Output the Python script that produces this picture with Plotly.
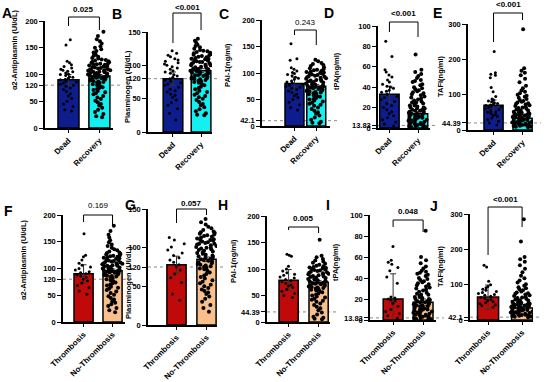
import plotly.graph_objects as go

W, H = 550, 382

# ---------------- data ----------------
cat_top = ["Dead", "Recovery"]
cat_bot = ["Thrombosis", "No-Thrombosis"]

y_titles = ["α2-Antiplasmin (UI/dL)", "Plasminogen (UI/dL)", "PAI-1(ng/ml)", "tPA(ng/ml)", "TAFI(ng/ml)",
            "α2-Antiplasmin (UI/dL)", "Plasminogen (UI/dL)", "PAI-1(ng/ml)", "tPA(ng/ml)", "TAFI(ng/ml)"]
letters = ["A", "B", "C", "D", "E", "F", "G", "H", "I", "J"]
p_values = ["0.025", "<0.001", "0.243", "<0.001", "<0.001", "0.169", "0.057", "0.005", "0.048", "<0.001"]
p_bold = [True, True, False, True, True, False, True, True, True, True]

bar_means = [[90, 97], [80, 92], [80, 75], [33, 14], [70, 33],
             [90, 96], [78, 85], [79, 75], [20, 17], [65, 34]]
bar_err = [[10, 3], [10, 3], [12, 3], [8, 2], [15, 4],
           [17, 3], [11, 3], [20, 3], [24, 3], [34, 3]]
ref_value = [80, 80, 10, 2.5, 20, 80, 75, 19, 2, 8]
ref_label = ["120", "120", "42.1", "13.83", "44.39", "120", "120", "44.39", "13.83", "42.1"]
y_max = [200, 150, 200, 100, 300, 200, 150, 200, 100, 300]
y_ticks = [[0, 50, 100, 150, 200], [0, 50, 100, 150], [0, 50, 100, 150, 200], [0, 20, 40, 60, 80, 100], [0, 100, 200, 300],
           [0, 50, 100, 150, 200], [0, 50, 100, 150], [0, 50, 100, 150, 200], [0, 20, 40, 60, 80, 100], [0, 100, 200, 300]]

antiplasmin_dead = [165, 155, 125, 122, 118, 115, 112, 110, 108, 106, 105, 103, 101, 100, 98, 96, 95, 93, 91, 90,
                    88, 86, 84, 82, 80, 78, 75, 72, 68, 64, 60, 55, 50, 45, 40, 34, 32]
antiplasmin_recovery = [180, 172, 166, 162, 158, 153, 150, 147, 144, 141, 139, 137, 135, 133, 131, 130, 128, 127, 126,
                        125, 124, 123, 122, 121, 120, 119, 118, 118, 117, 116, 115, 114, 114, 113, 112, 111, 110, 110,
                        109, 108, 108, 107, 106, 105, 105, 104, 103, 103, 102, 101, 100, 100, 99, 98, 98, 97, 96, 95,
                        95, 94, 93, 92, 91, 90, 89, 88, 87, 86, 85, 84, 82, 80, 78, 76, 75, 73, 71, 69, 67, 65, 63, 60,
                        57, 54, 51, 48, 45, 42, 38, 34, 30, 26, 22, 20]
plasminogen_dead = [122, 118, 115, 113, 110, 108, 106, 104, 102, 100, 98, 96, 94, 92, 90, 88, 86, 84, 82, 80, 78, 76,
                    74, 72, 70, 67, 64, 62, 60, 57, 55, 52, 48, 44, 40, 35, 28, 18]
plasminogen_recovery = [140, 137, 134, 131, 129, 127, 125, 123, 122, 121, 120, 119, 118, 117, 116, 115, 114, 113, 112,
                        111, 110, 110, 109, 108, 107, 106, 105, 105, 104, 103, 102, 101, 100, 100, 99, 98, 97, 96, 95,
                        95, 94, 93, 92, 91, 90, 90, 89, 88, 87, 86, 85, 85, 84, 83, 82, 81, 80, 80, 79, 78, 77, 76, 75,
                        74, 72, 70, 68, 66, 64, 62, 60, 58, 56, 54, 52, 50, 48, 45, 42, 40, 37, 34, 31, 28, 26, 25]
pai1_dead = [155, 127, 124, 110, 107, 104, 101, 99, 97, 95, 92, 90, 88, 85, 83, 81, 79, 77, 75, 73, 71, 69, 66, 63,
             60, 57, 54, 50, 45, 40, 35, 30]
pai1_recovery = [125, 122, 119, 117, 115, 113, 111, 109, 107, 106, 105, 104, 103, 102, 101, 100, 99, 98, 97, 96, 95,
                 94, 93, 92, 91, 90, 89, 88, 87, 86, 85, 84, 83, 82, 81, 80, 79, 78, 77, 76, 75, 74, 73, 72, 71, 70,
                 69, 68, 67, 66, 65, 64, 63, 62, 61, 60, 58, 56, 55, 53, 51, 50, 48, 46, 44, 42, 40, 38, 35, 32, 29,
                 26, 23, 20, 16, 12, 8, 6, 5]
tpa_dead = [85, 70, 57, 55, 52, 50, 47, 45, 43, 41, 40, 39, 37, 36, 35, 33, 31, 30, 28, 26, 24, 22, 20, 18, 16, 14,
            12, 10, 8, 6, 4, 2]
tpa_recovery = [72, 57, 55, 53, 51, 49, 47, 46, 45, 43, 42, 40, 39, 38, 37, 36, 35, 34, 33, 32, 31, 30, 29, 28, 27,
                26, 25, 25, 24, 23, 22, 22, 21, 20, 20, 19, 19, 18, 18, 17, 17, 16, 16, 15, 15, 14, 14, 13, 13, 12,
                12, 11, 11, 10, 10, 9, 9, 8, 8, 7, 7, 6, 6, 5, 5, 4, 4, 3, 3, 2, 2, 1, 1, 0.5]
tafi_dead = [222, 162, 158, 155, 148, 120, 108, 95, 88, 85, 82, 80, 77, 75, 73, 71, 69, 67, 65, 63, 60, 57, 55, 52,
             50, 47, 44, 41, 38, 34, 30, 25, 20, 14]
tafi_recovery = [285, 175, 168, 162, 155, 145, 135, 125, 118, 112, 108, 104, 100, 97, 94, 91, 88, 85, 82, 80, 78, 76,
                 74, 72, 70, 68, 66, 64, 62, 60, 58, 56, 55, 54, 52, 50, 49, 48, 47, 46, 45, 44, 43, 42, 41, 40, 39,
                 38, 37, 36, 35, 34, 33, 32, 31, 30, 29, 28, 27, 26, 25, 24, 23, 22, 21, 20, 19, 18, 17, 16, 15, 14,
                 13, 12, 11, 10, 9, 8]

antiplasmin_thrombosis = [165, 125, 122, 116, 110, 106, 103, 100, 97, 94, 92, 90, 88, 86, 83, 80, 77, 73, 68, 64, 58, 52]
antiplasmin_no_thrombosis = [180, 170, 163, 158, 153, 149, 145, 142, 139, 136, 134, 132, 130, 129, 127, 126, 125, 124,
                             123, 122, 121, 120, 119, 118, 117, 116, 115, 114, 113, 112, 111, 110, 110, 109, 108, 107,
                             106, 105, 105, 104, 103, 102, 101, 100, 100, 99, 98, 97, 96, 95, 95, 94, 93, 92, 91, 90,
                             89, 88, 87, 86, 85, 84, 82, 80, 78, 76, 74, 72, 70, 68, 66, 64, 62, 60, 57, 54, 51, 48,
                             45, 42, 39, 36, 33, 30, 26, 22, 18]
plasminogen_thrombosis = [113, 110, 105, 101, 97, 93, 90, 87, 84, 81, 78, 75, 71, 66, 61, 55, 40, 32]
plasminogen_no_thrombosis = [137, 133, 130, 127, 125, 123, 121, 120, 119, 118, 117, 116, 115, 114, 113, 112, 111, 110,
                             110, 109, 108, 107, 106, 105, 105, 104, 103, 102, 101, 100, 100, 99, 98, 97, 96, 95, 94,
                             93, 92, 91, 90, 89, 88, 87, 86, 85, 84, 83, 82, 81, 80, 79, 78, 77, 76, 75, 74, 73, 72,
                             70, 68, 66, 64, 62, 60, 58, 56, 54, 52, 50, 48, 46, 44, 42, 40, 37, 34, 30, 26, 22, 17]
pai1_thrombosis = [128, 126, 124, 105, 100, 96, 93, 90, 88, 85, 83, 80, 78, 76, 73, 70, 68, 65, 62, 58, 54, 50, 46]
pai1_no_thrombosis = [155, 125, 122, 119, 116, 114, 112, 110, 108, 106, 105, 104, 103, 102, 101, 100, 99, 98, 97, 96,
                      95, 94, 93, 92, 91, 90, 89, 88, 87, 86, 85, 84, 83, 82, 81, 80, 79, 78, 77, 76, 75, 74, 73, 72,
                      71, 70, 69, 68, 67, 66, 65, 64, 63, 62, 61, 60, 58, 56, 54, 52, 50, 48, 46, 44, 42, 40, 38, 35,
                      32, 29, 26, 22, 18, 14, 10, 8, 6, 5]
tpa_thrombosis = [70, 57, 55, 53, 50, 47, 41, 35, 22, 21, 20, 19, 18, 16, 13, 10, 8, 6, 4, 2]
tpa_no_thrombosis = [85, 60, 57, 54, 51, 49, 47, 46, 45, 44, 43, 42, 40, 39, 38, 37, 36, 35, 34, 33, 32, 31, 30, 29,
                     28, 27, 26, 25, 24, 24, 23, 22, 22, 21, 20, 20, 19, 19, 18, 18, 17, 17, 16, 16, 15, 15, 14, 14,
                     13, 13, 12, 12, 11, 11, 10, 10, 9, 9, 8, 8, 7, 7, 6, 6, 5, 5, 4, 4, 3, 3, 2, 2, 1, 1, 0.5]
tafi_thrombosis = [155, 150, 110, 100, 95, 91, 87, 84, 81, 78, 75, 72, 70, 67, 64, 61, 58, 55, 52, 49, 46, 43, 40, 36]
tafi_no_thrombosis = [285, 222, 178, 172, 165, 155, 145, 135, 125, 118, 112, 106, 101, 97, 93, 90, 87, 84, 81, 78, 76,
                      74, 72, 70, 68, 66, 64, 62, 60, 58, 56, 55, 54, 52, 50, 49, 48, 47, 46, 45, 44, 43, 42, 41, 40,
                      39, 38, 37, 36, 35, 34, 33, 32, 31, 30, 29, 28, 27, 26, 25, 24, 23, 22, 21, 20, 19, 18, 17, 16,
                      15, 14, 13, 12, 11, 10, 9, 8]

points = [
    [antiplasmin_dead, antiplasmin_recovery], [plasminogen_dead, plasminogen_recovery], [pai1_dead, pai1_recovery],
    [tpa_dead, tpa_recovery], [tafi_dead, tafi_recovery],
    [antiplasmin_thrombosis, antiplasmin_no_thrombosis], [plasminogen_thrombosis, plasminogen_no_thrombosis],
    [pai1_thrombosis, pai1_no_thrombosis], [tpa_thrombosis, tpa_no_thrombosis], [tafi_thrombosis, tafi_no_thrombosis],
]

# ---------------- layout geometry (pixels) ----------------
# axis_left, axis_right, y_zero_px, y_top_px, x_lo, x_hi, bar_width
geom = [
    (45, 113, 128, 21, -0.76, 1.44, 0.68),
    (148, 212, 132, 32, -0.89, 1.39, 0.70),
    (262, 330, 126, 20, -1.49, 1.63, 0.87),
    (378, 430, 128, 26, -0.40, 1.42, 0.68),
    (468, 533, 130, 24, -0.88, 1.36, 0.66),
    (63, 125, 322, 215, -0.71, 1.43, 0.66),
    (148, 217, 325, 209, -0.95, 1.35, 0.64),
    (267, 330, 322, 216, -0.72, 1.38, 0.64),
    (370, 436, 320, 215, -0.77, 1.43, 0.66),
    (470, 533, 320, 214, -0.53, 1.32, 0.62),
]
# bracket: top_px, left_leg_end_px, right_leg_end_px, text_px
brackets = [
    (17, 26, 30, 10), (13, 43, 30, 7), (30, 35, 45, 22), (22, 32, 37, 14), (13, 42, 20, 5),
    (215, 222, 225, 205), (209, 223, 215, 203), (227, 230, 233, 218), (220, 227, 232, 211), (207, 255, 227, 199),
]
letter_pos = [(7, 13), (117, 14), (224, 14), (329, 13), (437, 13),
              (8, 211), (130, 205), (223, 205), (328, 205), (434, 206)]
title_pos = [(15, 50), (128, 87), (227, 65), (336, 71), (440, 76),
             (23, 260), (128, 283), (233, 261), (335, 262), (440, 266)]

top_colors = ["#0e1d8e", "#12f0f0"]
bot_colors = ["#c00a0a", "#f9c08c"]

FONT = "Liberation Sans, Arial, sans-serif"


def fx(px):
    return px / W


def fy(py):
    return 1 - py / H


fig = go.Figure()
layout = dict(width=W, height=H, margin=dict(l=0, r=0, t=0, b=0, autoexpand=False),
              paper_bgcolor="white", plot_bgcolor="white", showlegend=False,
              font=dict(family=FONT, color="black"))
shapes = []
annotations = []

for i in range(10):
    n = "" if i == 0 else str(i + 1)
    xa, ya = "x" + n, "y" + n
    cats = cat_top if i < 5 else cat_bot
    cols = top_colors if i < 5 else bot_colors
    axl, axr, y0p, ytp, xlo, xhi, bw = geom[i]

    fig.add_trace(go.Bar(
        x=cats, y=bar_means[i], width=bw, marker=dict(color=cols, line=dict(color="black", width=1.5)),
        error_y=dict(type="data", array=bar_err[i], color="#333333", thickness=1, width=3),
        xaxis=xa, yaxis=ya, hoverinfo="skip"))
    for k in range(2):
        vals = points[i][k]
        fig.add_trace(go.Box(
            x=[cats[k]] * len(vals), y=vals, boxpoints="all", jitter=1, pointpos=0, width=bw * (0.95 if k == 0 else 1.1),
            fillcolor="rgba(0,0,0,0)", line=dict(color="rgba(0,0,0,0)", width=0), whiskerwidth=0,
            marker=dict(color="black", size=3 if k == 0 else 4), xaxis=xa, yaxis=ya, hoverinfo="skip"))

    tv = sorted(y_ticks[i] + [ref_value[i]])
    tt = [ref_label[i] if v == ref_value[i] else str(v) for v in tv]
    layout["xaxis" + n] = dict(domain=[fx(axl), fx(axr)], anchor=ya, range=[xlo, xhi], type="category",
                               categoryorder="array", categoryarray=cats, automargin=False,
                               showline=True, linecolor="black", linewidth=1.5, ticks="outside", ticklen=3,
                               tickwidth=1, tickcolor="black", tickangle=-45, showgrid=False, zeroline=False,
                               tickfont=dict(family=FONT, size=8, color="black", weight="bold"))
    layout["yaxis" + n] = dict(domain=[fy(y0p), fy(ytp)], anchor=xa, range=[0, y_max[i]], automargin=False,
                               tickvals=tv, ticktext=tt, showline=True, linecolor="black", linewidth=1.5,
                               ticks="outside", ticklen=4, tickwidth=1, tickcolor="black", showgrid=False,
                               zeroline=False, tickfont=dict(family=FONT, size=7.5, color="black", weight="bold"))

    # dotted reference line
    shapes.append(dict(type="line", xref=xa + " domain", yref=ya, x0=0, x1=1.12, y0=ref_value[i], y1=ref_value[i],
                       line=dict(color="#8a8a8a", width=1, dash="dot"), layer="below"))
    # bracket
    bt, bl, br, btx = brackets[i]
    lw = dict(color="black", width=1)
    shapes.append(dict(type="line", xref=xa, yref="paper", x0=0, x1=1, y0=fy(bt), y1=fy(bt), line=lw))
    shapes.append(dict(type="line", xref=xa, yref="paper", x0=0, x1=0, y0=fy(bt), y1=fy(bl), line=lw))
    shapes.append(dict(type="line", xref=xa, yref="paper", x0=1, x1=1, y0=fy(bt), y1=fy(br), line=lw))
    annotations.append(dict(xref=xa, yref="paper", x=0.5, y=fy(btx), text=p_values[i], showarrow=False,
                            font=dict(family=FONT, size=8, color="black",
                                      weight="bold" if p_bold[i] else "normal"),
                            xanchor="center", yanchor="middle"))
    # panel letter
    lx, ly = letter_pos[i]
    annotations.append(dict(xref="paper", yref="paper", x=fx(lx), y=fy(ly), text=letters[i], showarrow=False,
                            font=dict(family=FONT, size=14, color="black", weight="bold"),
                            xanchor="center", yanchor="middle"))
    # y title
    tx, ty = title_pos[i]
    annotations.append(dict(xref="paper", yref="paper", x=fx(tx), y=fy(ty), text=y_titles[i], showarrow=False,
                            textangle=-90, font=dict(family=FONT, size=7.5, color="black", weight="bold"),
                            xanchor="center", yanchor="middle"))

layout["shapes"] = shapes
layout["annotations"] = annotations
layout["boxmode"] = "overlay"
fig.update_layout(**layout)

fig.write_html("out.html", config={"displayModeBar": False},
               post_script="document.body.style.margin='0';document.body.style.overflow='hidden';")
